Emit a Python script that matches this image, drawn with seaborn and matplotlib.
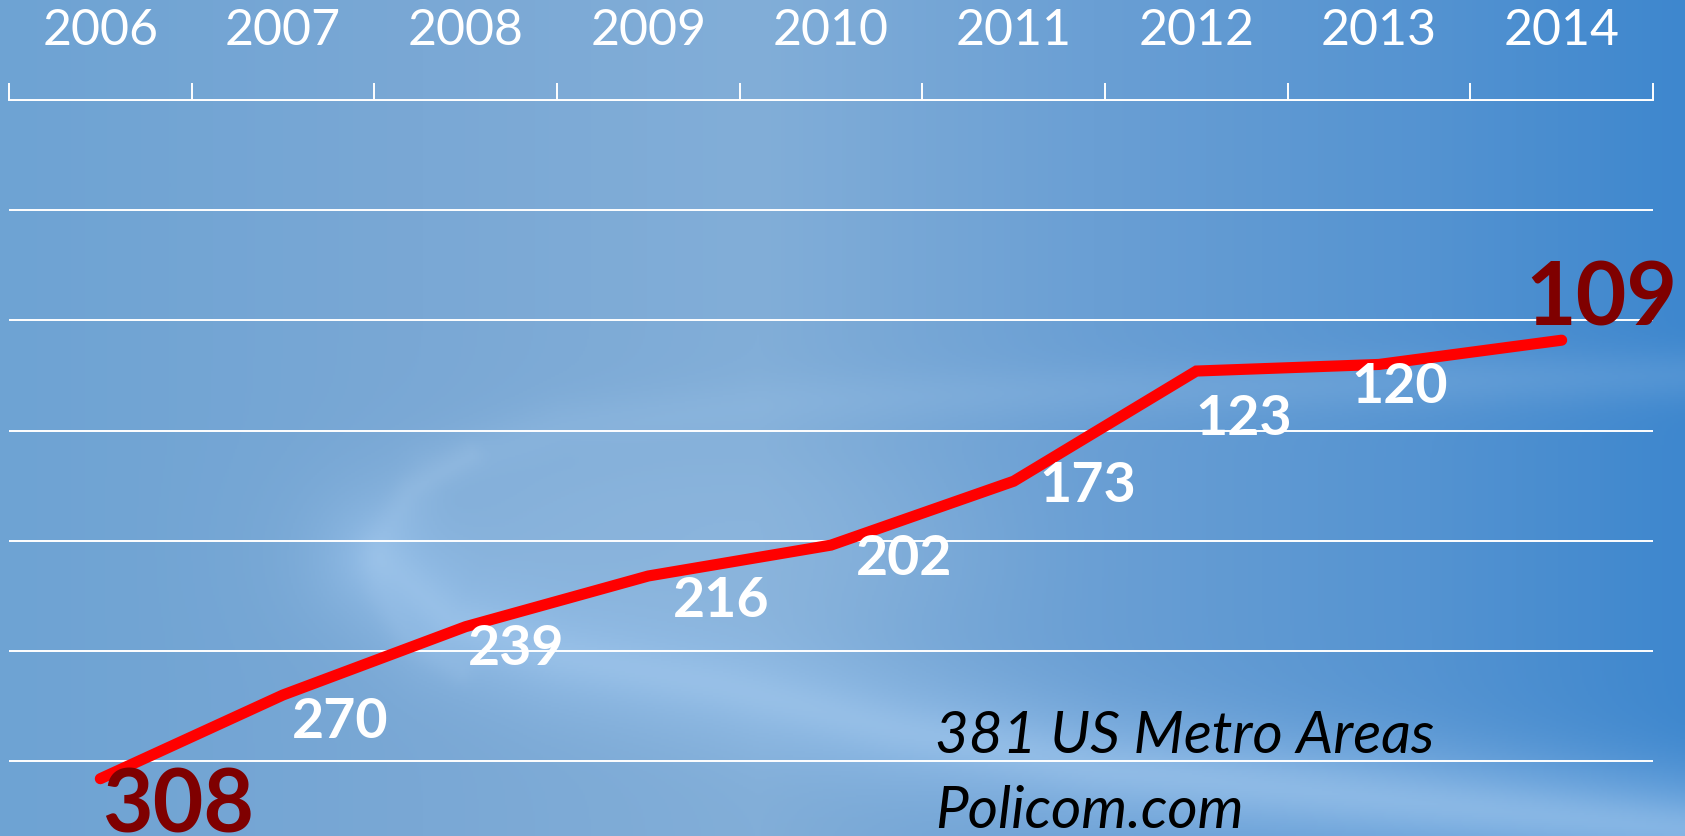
import numpy as np
import pandas as pd
import matplotlib
matplotlib.use("Agg")
import matplotlib.pyplot as plt
import seaborn as sns
from matplotlib.ticker import FixedLocator, MultipleLocator, NullFormatter, FixedFormatter

# ---------------- data ----------------
YEARS = ["2006", "2007", "2008", "2009", "2010", "2011", "2012", "2013", "2014"]
RANK = [308, 270, 239, 216, 202, 173, 123, 120, 109]
NOTE_LINES = ["381 US Metro Areas", "Policom.com"]

# label offsets (pixels, dx right, dy down to baseline) – styling only
LABEL_OFFSETS_PX = [(78, 54), (57, 43), (50, 38), (73, 41), (73, 30),
                    (74, 21), (47, 64), (21, 39), (40, -15)]

sns.set_style("white")
plt.rcParams["font.family"] = ["Lato", "DejaVu Sans"]

W, H = 1685, 836
fig = plt.figure(figsize=(W / 100, H / 100), dpi=100)

# ---------------- background (decoration) ----------------
step = 2
gx, gy = np.meshgrid(np.arange(0, W, step) + 0.5, np.arange(0, H, step) + 0.5)
stops_t = [0.0, 0.25, 0.45, 0.65, 0.85, 1.0]
stops_c = np.array([[110, 163, 211], [122, 168, 213], [130, 174, 216],
                    [106, 159, 212], [84, 147, 209], [62, 135, 206]], float)
t = gx / W
img = np.stack([np.interp(t, stops_t, stops_c[:, k]) for k in range(3)], axis=-1)


def poly_dist(X, Y, pts):
    d = np.full(X.shape, np.inf)
    for (x0, y0), (x1, y1) in zip(pts[:-1], pts[1:]):
        vx, vy = x1 - x0, y1 - y0
        tt = np.clip(((X - x0) * vx + (Y - y0) * vy) / (vx * vx + vy * vy), 0, 1)
        d = np.minimum(d, np.hypot(X - x0 - tt * vx, Y - y0 - tt * vy))
    return d


def blend(img, alpha, color):
    a = alpha[..., None]
    return img * (1 - a) + np.array(color, float) * a


# inner body of swoosh
blob = np.exp(-(((gx - 640) / 300) ** 2 + ((gy - 550) / 125) ** 2) ** 1.5)
img = blend(img, 0.55 * blob, (146, 186, 224))
# rim of the swoosh on the left
rim = [(470, 455), (410, 490), (378, 540), (378, 590), (405, 635), (460, 670)]
dr = poly_dist(gx, gy, rim)
img = blend(img, 0.18 * np.exp(-(dr / 14) ** 2), (175, 205, 235))
# lower bright band
lower = [(380, 560), (450, 620), (560, 655), (720, 685), (900, 730),
         (1100, 768), (1400, 800), (1685, 830)]
d = poly_dist(gx, gy, lower)
img = blend(img, 0.6 * np.exp(-(d / 62) ** 2), (152, 194, 236))
img = blend(img, 0.3 * np.exp(-(d / 24) ** 2), (170, 205, 238))
# upper faint arm
upper = [(390, 540), (430, 470), (560, 425), (800, 400), (1100, 390), (1685, 375)]
d2 = poly_dist(gx, gy, upper)
img = blend(img, 0.2 * np.exp(-(d2 / 28) ** 2), (160, 198, 234))

bg = fig.add_axes([0, 0, 1, 1], zorder=0)
bg.imshow(np.clip(img, 0, 255).astype(np.uint8), extent=[0, W, H, 0],
          aspect="auto", interpolation="bilinear")
bg.set_axis_off()

# ---------------- chart ----------------
ax = fig.add_axes([9 / W, 0, 1644 / W, 736 / H], zorder=2)
ax.patch.set_alpha(0)

df = pd.DataFrame({"pos": np.arange(len(YEARS)), "year": YEARS, "rank": RANK})
sns.lineplot(data=df, x="pos", y="rank", ax=ax, color="#FF0000", lw=8,
             solid_capstyle="round", solid_joinstyle="miter", legend=False, sort=False)

ax.set_xlim(-0.5, len(YEARS) - 0.5)
ax.set_ylim(334, 0)
ax.set_xlabel("")
ax.set_ylabel("")

ax.xaxis.set_ticks_position("top")
ax.xaxis.set_major_locator(FixedLocator(np.arange(len(YEARS) + 1) - 0.5))
ax.xaxis.set_major_formatter(NullFormatter())
ax.xaxis.set_minor_locator(FixedLocator(df["pos"].tolist()))
ax.xaxis.set_minor_formatter(FixedFormatter(YEARS))
ax.tick_params(axis="x", which="major", direction="out", length=12.2, width=1.4,
               color="white", top=True, bottom=False, labeltop=False, labelbottom=False)
ax.tick_params(axis="x", which="minor", length=0, top=True, bottom=False,
               labeltop=True, labelbottom=False, labelsize=36, labelcolor="white", pad=33)

ax.yaxis.set_major_locator(MultipleLocator(50))
ax.tick_params(axis="y", length=0, labelleft=False, labelright=False)
ax.grid(axis="y", color="white", lw=1.4)
ax.grid(axis="x", visible=False)

for side in ["left", "right", "bottom"]:
    ax.spines[side].set_visible(False)
ax.spines["top"].set_visible(True)
ax.spines["top"].set_color("white")
ax.spines["top"].set_linewidth(1.4)

n = len(RANK)
for i, (v, (dx, dy)) in enumerate(zip(RANK, LABEL_OFFSETS_PX)):
    big = i in (0, n - 1)
    ax.annotate(str(v), xy=(i, v), xytext=(dx, -dy), textcoords="offset pixels",
                ha="center", va="baseline", fontweight="bold",
                fontsize=63 if big else 40,
                color="#7F0000" if big else "white", annotation_clip=False)

fig.text(935 / W, 1 - 753 / H, NOTE_LINES[0], style="italic", fontsize=42,
         color="black", ha="left", va="baseline")
fig.text(935 / W, 1 - 828 / H, NOTE_LINES[1], style="italic", fontsize=42,
         color="black", ha="left", va="baseline")

fig.savefig("out.png", dpi=100)
